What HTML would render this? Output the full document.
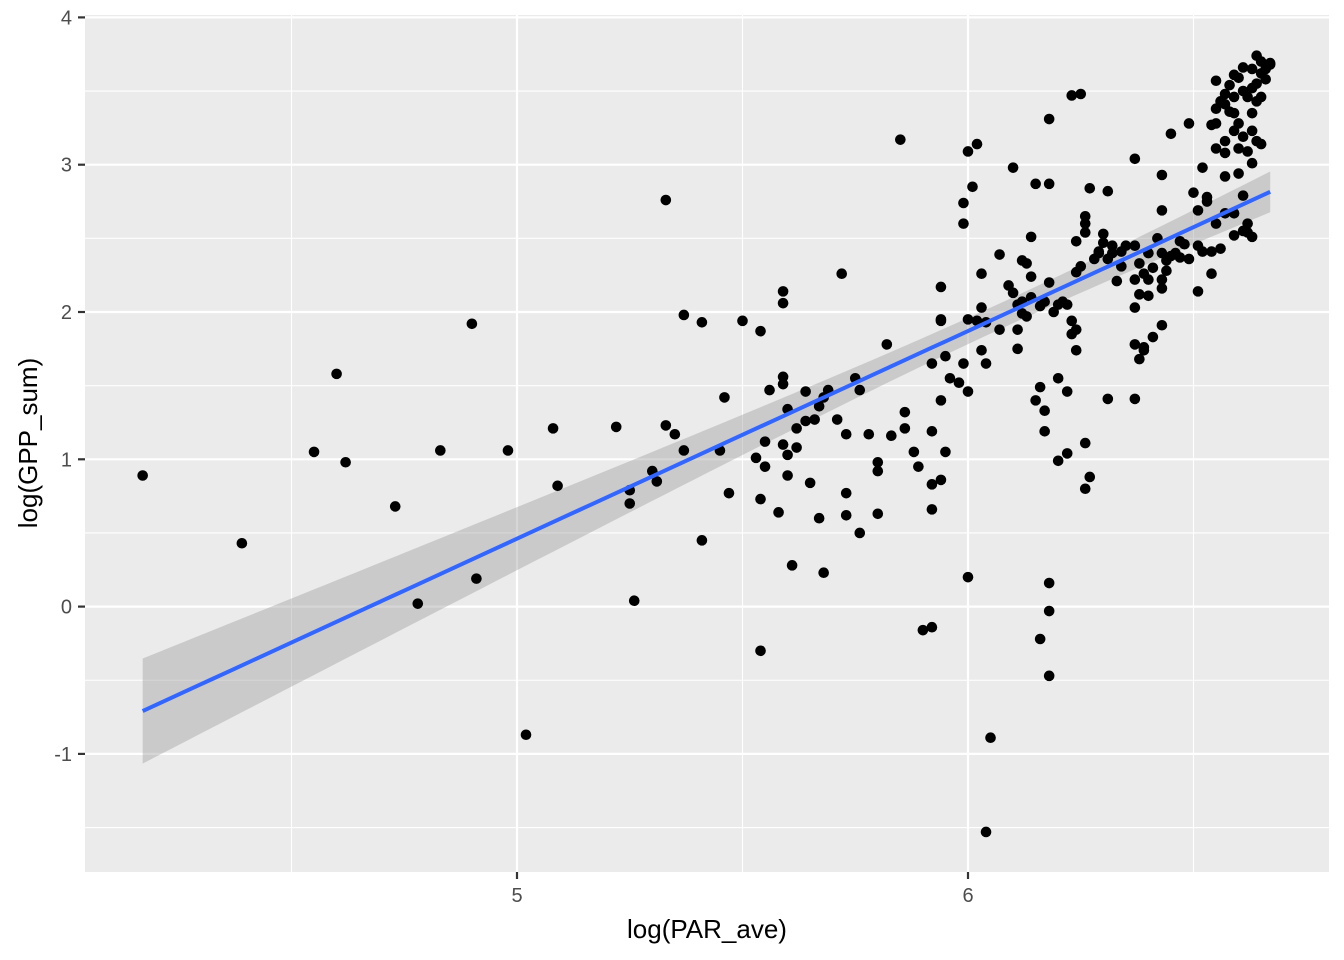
<!DOCTYPE html>
<html><head><meta charset="utf-8"><style>
html,body{margin:0;padding:0;background:#fff;}
svg{display:block;font-family:"Liberation Sans",sans-serif;}
</style></head><body>
<svg id="chart" width="1344" height="960" xmlns="http://www.w3.org/2000/svg">
<rect x="85" y="15" width="1244" height="857" fill="#ebebeb"/>
<g id="grid"></g>
<g id="band"></g>
<g id="pts"></g>
<g id="fit"></g>
<g id="axes"></g>
<text x="707" y="938" font-size="26" text-anchor="middle" fill="#000">log(PAR_ave)</text>
<text transform="translate(37,443) rotate(-90)" font-size="26" text-anchor="middle" fill="#000">log(GPP_sum)</text>
</svg>
<script>
const xTicks=[5,6];
const xMinor=[4.5,5.5,6.5];
const yTicks=[-1,0,1,2,3,4];
const yMinor=[-1.5,-0.5,0.5,1.5,2.5,3.5];
const xVals=[4.17,4.39,4.55,4.60,4.62,4.73,4.78,4.83,4.90,4.91,4.98,5.02,5.08,5.09,5.22,5.25,5.25,5.26,5.30,5.31,5.33,5.33,5.35,5.37,5.37,5.41,5.41,5.45,5.46,5.47,5.50,5.53,5.54,5.54,5.54,5.55,5.55,5.56,5.58,5.59,5.59,5.59,5.59,5.59,5.60,5.60,5.60,5.61,5.62,5.62,5.64,5.64,5.65,5.66,5.67,5.67,5.68,5.68,5.69,5.71,5.72,5.73,5.73,5.73,5.75,5.76,5.76,5.78,5.80,5.80,5.80,5.82,5.83,5.85,5.86,5.86,5.88,5.89,5.90,5.92,5.92,5.92,5.92,5.92,5.94,5.94,5.94,5.94,5.94,5.95,5.95,5.96,5.98,5.99,5.99,5.99,6.00,6.00,6.00,6.00,6.01,6.02,6.02,6.03,6.03,6.03,6.04,6.04,6.05,6.04,6.07,6.07,6.10,6.09,6.10,6.11,6.11,6.11,6.12,6.12,6.12,6.13,6.13,6.14,6.14,6.14,6.15,6.15,6.16,6.16,6.16,6.17,6.17,6.17,6.18,6.18,6.18,6.18,6.18,6.18,6.19,6.20,6.20,6.20,6.21,6.22,6.22,6.22,6.23,6.23,6.23,6.24,6.24,6.24,6.24,6.25,6.25,6.26,6.26,6.26,6.26,6.26,6.27,6.27,6.28,6.29,6.29,6.30,6.30,6.31,6.31,6.31,6.32,6.32,6.33,6.34,6.34,6.35,6.37,6.37,6.37,6.37,6.37,6.37,6.38,6.38,6.38,6.39,6.39,6.39,6.40,6.40,6.40,6.41,6.41,6.42,6.43,6.43,6.43,6.43,6.43,6.43,6.44,6.44,6.45,6.45,6.46,6.47,6.47,6.48,6.49,6.49,6.50,6.51,6.51,6.51,6.52,6.52,6.53,6.53,6.54,6.54,6.55,6.55,6.55,6.55,6.55,6.56,6.56,6.57,6.57,6.57,6.57,6.57,6.58,6.58,6.59,6.59,6.59,6.59,6.59,6.60,6.60,6.60,6.60,6.61,6.61,6.61,6.61,6.62,6.62,6.62,6.62,6.63,6.63,6.63,6.63,6.63,6.64,6.64,6.64,6.64,6.65,6.65,6.65,6.65,6.66,6.66,6.67,6.67,6.59,6.61,6.57,6.63,6.54];
const yVals=[0.89,0.43,1.05,1.58,0.98,0.68,0.02,1.06,1.92,0.19,1.06,-0.87,1.21,0.82,1.22,0.79,0.70,0.04,0.92,0.85,2.76,1.23,1.17,1.98,1.06,1.93,0.45,1.06,1.42,0.77,1.94,1.01,1.87,-0.30,0.73,0.95,1.12,1.47,0.64,1.51,1.56,1.10,2.14,2.06,1.34,1.03,0.89,0.28,1.08,1.21,1.26,1.46,0.84,1.27,1.36,0.60,1.42,0.23,1.47,1.27,2.26,0.77,1.17,0.62,1.55,0.50,1.47,1.17,0.98,0.63,0.92,1.78,1.16,3.17,1.32,1.21,1.05,0.95,-0.16,1.65,-0.14,0.66,1.19,0.83,0.86,1.94,2.17,1.40,1.95,1.05,1.70,1.55,1.52,2.60,2.74,1.65,3.09,1.95,0.20,1.46,2.85,1.94,3.14,2.26,2.03,1.74,1.65,1.93,-0.89,-1.53,2.39,1.88,2.98,2.18,2.13,1.75,1.88,2.05,1.99,2.07,2.35,1.97,2.33,2.24,2.51,2.10,2.87,1.40,2.04,1.49,-0.22,1.33,1.19,2.07,0.16,-0.47,2.87,-0.03,3.31,2.20,2.00,2.05,0.99,1.55,2.07,1.46,2.05,1.04,3.47,1.94,1.85,2.48,1.74,2.27,1.88,3.48,2.31,1.11,2.54,2.60,2.65,0.80,2.84,0.88,2.36,2.41,2.40,2.47,2.53,2.36,1.41,2.82,2.45,2.40,2.21,2.31,2.41,2.45,2.45,1.78,3.04,1.41,2.03,2.22,2.33,2.12,1.68,2.26,1.74,1.76,2.22,2.11,2.40,1.83,2.30,2.50,2.40,2.16,2.69,2.93,1.91,2.22,2.28,2.35,2.38,3.21,2.40,2.37,2.48,2.46,3.28,2.36,2.81,2.45,2.69,2.14,2.98,2.41,2.78,2.75,2.41,2.26,3.57,3.28,3.11,2.60,3.38,2.43,3.43,3.16,2.67,2.92,3.08,3.48,3.54,3.36,3.61,3.46,3.23,2.67,3.35,3.11,3.59,2.94,3.28,3.50,3.19,2.55,3.66,3.46,2.54,3.09,2.60,3.65,3.23,3.52,3.01,3.35,3.55,3.16,3.74,3.43,3.62,3.14,3.46,3.70,3.58,3.65,3.69,3.68,2.52,2.79,3.41,2.51,3.27];

const NS='http://www.w3.org/2000/svg';
const X0=85,X1=1329,Y0=15,Y1=872;
function sx(v){return 517+(v-5)*451;}
function sy(v){return 606.6-v*147.3;}
function mk(tag,attrs,parent){const e=document.createElementNS(NS,tag);for(const k in attrs)e.setAttribute(k,attrs[k]);parent.appendChild(e);return e;}
const grid=document.getElementById('grid'),axes=document.getElementById('axes');
xMinor.forEach(v=>{const l=mk('line',{x1:sx(v),x2:sx(v),y1:Y0,y2:Y1,stroke:'#fff','stroke-width':1.1},grid);

});
yMinor.forEach(v=>{const l=mk('line',{x1:X0,x2:X1,y1:sy(v),y2:sy(v),stroke:'#fff','stroke-width':1.1},grid);

});
xTicks.forEach(v=>{const l=mk('line',{x1:sx(v),x2:sx(v),y1:Y0,y2:Y1,stroke:'#fff','stroke-width':2.2},grid);


const t=mk('line',{x1:sx(v),x2:sx(v),y1:Y1,y2:Y1+7,stroke:'#333','stroke-width':2.2},axes);


const tx=mk('text',{x:sx(v),y:Y1+30,'font-size':20,'text-anchor':'middle',fill:'#4d4d4d'},axes);tx.textContent=v;

});
yTicks.forEach(v=>{const l=mk('line',{x1:X0,x2:X1,y1:sy(v),y2:sy(v),stroke:'#fff','stroke-width':2.2},grid);


const t=mk('line',{x1:X0-7,x2:X0,y1:sy(v),y2:sy(v),stroke:'#333','stroke-width':2.2},axes);


const tx=mk('text',{x:X0-13,y:sy(v)+7,'font-size':20,'text-anchor':'end',fill:'#4d4d4d'},axes);tx.textContent=v;

});
const pts=document.getElementById('pts');
xVals.forEach((x,i)=>{const c=mk('circle',{cx:sx(x),cy:sy(yVals[i]),r:5.3,fill:'#000'},pts);

});
const n=xVals.length;let mx=0,my=0;xVals.forEach((x,i)=>{mx+=x;my+=yVals[i];});mx/=n;my/=n;
let sxx=0,sxy=0;xVals.forEach((x,i)=>{sxx+=(x-mx)**2;sxy+=(x-mx)*(yVals[i]-my);});
const b=sxy/sxx,a=my-b*mx;let sse=0;xVals.forEach((x,i)=>{sse+=(yVals[i]-a-b*x)**2;});
const s=Math.sqrt(sse/(n-2));
const xmin=Math.min(...xVals),xmax=Math.max(...xVals);
let up=[],lo=[],ln=[];
for(let k=0;k<=80;k++){const x=xmin+(xmax-xmin)*k/80;const y=a+b*x;const se=1.97*s*Math.sqrt(1/n+(x-mx)**2/sxx);
up.push(sx(x)+','+sy(y+se));lo.unshift(sx(x)+','+sy(y-se));ln.push(sx(x)+','+sy(y));}
const band=mk('polygon',{points:up.concat(lo).join(' '),fill:'#999','fill-opacity':0.4},document.getElementById('band'));


const fl=mk('polyline',{points:ln.join(' '),fill:'none',stroke:'#3366ff','stroke-width':4},document.getElementById('fit'));


</script>
</body></html>
